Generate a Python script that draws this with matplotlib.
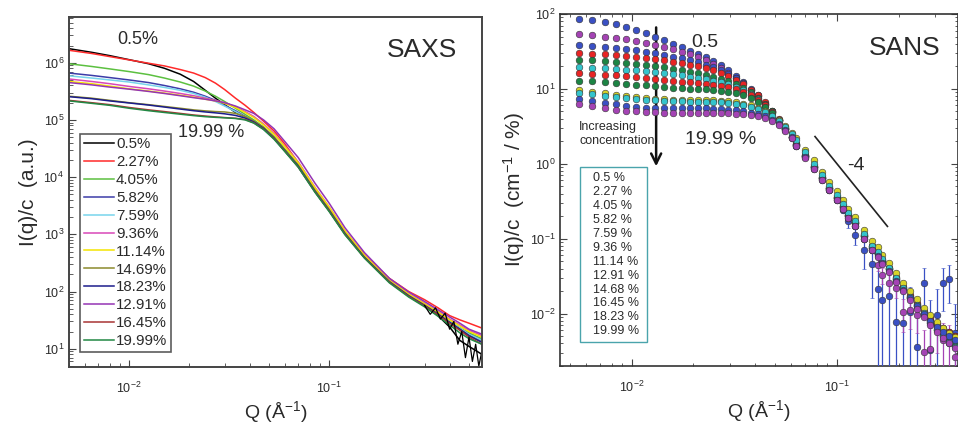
import numpy as np
import matplotlib
matplotlib.use("Agg")
import matplotlib.pyplot as plt
from matplotlib.patches import Rectangle
from matplotlib.ticker import NullFormatter

plt.rcParams["font.family"] = ["Liberation Sans", "DejaVu Sans"]
plt.rcParams["mathtext.fontset"] = "custom"
plt.rcParams["mathtext.rm"] = "Liberation Sans"
plt.rcParams["mathtext.it"] = "Liberation Sans:italic"

# ------------------------------------------------------------
# SAXS DATA (left panel)
# ------------------------------------------------------------
saxs_labels = ["0.5%", "2.27%", "4.05%", "5.82%", "7.59%", "9.36%",
               "11.14%", "14.69%", "18.23%", "12.91%", "16.45%", "19.99%"]
saxs_colors = ["#000000", "#ff2a2a", "#5cc040", "#3c3ca8", "#78d4ec", "#d848b8",
               "#f4e400", "#8c8a2c", "#1c1c8c", "#9434b4", "#a83434", "#228844"]

saxs_q = [0.005, 0.0065, 0.008, 0.01, 0.0125, 0.015, 0.018, 0.021, 0.024, 0.027,
          0.03, 0.034, 0.038, 0.042, 0.047, 0.053, 0.06, 0.07, 0.085, 0.1,
          0.12, 0.15, 0.2, 0.25, 0.3, 0.35, 0.4, 0.45, 0.5, 0.58]

saxs_I = [
    [1.76e6, 1.52e6, 1.33e6, 1.13e6, 9.6e5, 8.0e5, 6.3e5, 4.7e5, 3.3e5, 2.4e5,
     1.85e5, 1.35e5, 1.12e5, 9.3e4, 7.2e4, 4.9e4, 3.0e4, 1.6e4, 5.8e3, 2.7e3,
     1.05e3, 410, 150, 85, 57, 38, 24, 14, 11, 8],
    [1.65e6, 1.45e6, 1.28e6, 1.12e6, 9.8e5, 8.8e5, 7.6e5, 6.6e5, 5.5e5, 4.4e5,
     3.4e5, 2.4e5, 1.8e5, 1.35e5, 9.5e4, 6.4e4, 3.8e4, 1.8e4, 6.2e3, 2.8e3,
     1.1e3, 440, 170, 100, 72, 52, 38, 32, 28, 23],
    [9.6e5, 8.6e5, 7.8e5, 7.0e5, 6.2e5, 5.4e5, 4.6e5, 3.9e5, 3.2e5, 2.6e5,
     2.1e5, 1.6e5, 1.25e5, 1.0e5, 7.5e4, 5.1e4, 3.1e4, 1.65e4, 6.0e3, 2.8e3,
     1.1e3, 420, 155, 88, 60, 42, 30, 23, 19, 15],
    [6.6e5, 6.0e5, 5.5e5, 5.0e5, 4.5e5, 4.0e5, 3.5e5, 3.05e5, 2.6e5, 2.2e5,
     1.8e5, 1.45e5, 1.15e5, 9.2e4, 7.0e4, 4.8e4, 2.9e4, 1.55e4, 5.6e3, 2.6e3,
     1.02e3, 400, 150, 85, 58, 41, 30, 23, 18, 14],
    [5.9e5, 5.4e5, 5.0e5, 4.6e5, 4.1e5, 3.7e5, 3.3e5, 2.9e5, 2.5e5, 2.1e5,
     1.75e5, 1.4e5, 1.12e5, 9.0e4, 6.8e4, 4.7e4, 2.85e4, 1.5e4, 5.5e3, 2.6e3,
     1.0e3, 395, 150, 86, 59, 42, 30, 23, 18, 14],
    [5.2e5, 4.7e5, 4.3e5, 3.85e5, 3.5e5, 3.2e5, 2.9e5, 2.65e5, 2.4e5, 2.2e5,
     2.0e5, 1.7e5, 1.4e5, 1.15e5, 8.5e4, 5.8e4, 3.5e4, 1.85e4, 6.6e3, 3.0e3,
     1.15e3, 440, 160, 92, 63, 45, 33, 26, 21, 17],
    [4.7e5, 4.3e5, 3.9e5, 3.5e5, 3.2e5, 2.95e5, 2.7e5, 2.5e5, 2.3e5, 2.15e5,
     1.95e5, 1.65e5, 1.35e5, 1.1e5, 8.2e4, 5.6e4, 3.4e4, 1.8e4, 6.5e3, 3.0e3,
     1.15e3, 430, 158, 90, 61, 44, 32, 25, 20, 16],
    [2.6e5, 2.4e5, 2.2e5, 2.0e5, 1.85e5, 1.72e5, 1.6e5, 1.5e5, 1.44e5, 1.4e5,
     1.38e5, 1.3e5, 1.15e5, 9.6e4, 7.4e4, 5.0e4, 3.0e4, 1.6e4, 5.8e3, 2.7e3,
     1.05e3, 400, 150, 85, 58, 41, 29, 22, 17, 13],
    [2.55e5, 2.35e5, 2.15e5, 1.98e5, 1.82e5, 1.68e5, 1.55e5, 1.45e5, 1.38e5, 1.33e5,
     1.28e5, 1.2e5, 1.08e5, 9.2e4, 7.1e4, 4.8e4, 2.9e4, 1.55e4, 5.6e3, 2.6e3,
     1.02e3, 395, 148, 84, 57, 40, 29, 22, 17, 13],
    [4.5e5, 4.1e5, 3.75e5, 3.45e5, 3.15e5, 2.9e5, 2.65e5, 2.45e5, 2.3e5, 2.15e5,
     2.0e5, 1.75e5, 1.5e5, 1.3e5, 1.0e5, 7.0e4, 4.2e4, 2.2e4, 7.8e3, 3.5e3,
     1.3e3, 480, 170, 98, 67, 48, 36, 28, 22, 18],
    [2.2e5, 2.0e5, 1.85e5, 1.65e5, 1.5e5, 1.4e5, 1.3e5, 1.22e5, 1.17e5, 1.13e5,
     1.1e5, 1.07e5, 1.02e5, 8.9e4, 6.9e4, 4.7e4, 2.85e4, 1.5e4, 5.5e3, 2.55e3,
     1.0e3, 390, 145, 82, 56, 39, 28, 21, 16, 12],
    [2.15e5, 1.95e5, 1.8e5, 1.6e5, 1.45e5, 1.35e5, 1.26e5, 1.19e5, 1.14e5, 1.11e5,
     1.09e5, 1.06e5, 1.0e5, 8.8e4, 6.8e4, 4.6e4, 2.8e4, 1.5e4, 5.4e3, 2.5e3,
     980, 385, 142, 80, 54, 37, 26, 19, 15, 12],
]

# noisy high-q end of the 0.5 % SAXS curve
saxs_noise_q = [0.3, 0.32, 0.34, 0.36, 0.38, 0.4, 0.42, 0.44, 0.46, 0.48,
                0.5, 0.52, 0.54, 0.56, 0.58]
saxs_noise_I = [57, 40, 52, 33, 42, 22, 30, 12, 20, 7, 16, 6, 12, 5, 9]

saxs_yticks = [1e1, 1e2, 1e3, 1e4, 1e5, 1e6]
q_ticks = [0.01, 0.1]

# ------------------------------------------------------------
# SANS DATA (right panel)
# ------------------------------------------------------------
sans_labels = ["0.5 %", "2.27 %", "4.05 %", "5.82 %", "7.59 %", "9.36 %",
               "11.14 %", "12.91 %", "14.68 %", "16.45 %", "18.23 %", "19.99 %"]
sans_colors = ["#3a50c4", "#a443b4", "#3a50c4", "#e82424", "#1c8444", "#34c4cc",
               "#e82424", "#1c8444", "#d8d428", "#34c4cc", "#3a50c4", "#a443b4"]

sans_q = [0.0055, 0.0064, 0.0074, 0.0084, 0.0094, 0.0105, 0.0117, 0.0130, 0.0144, 0.0159,
          0.0175, 0.0192, 0.0210, 0.0229, 0.0250, 0.0272, 0.0296, 0.0322, 0.0350, 0.0380,
          0.0412, 0.0446, 0.0482, 0.0520, 0.0560, 0.0603, 0.0633, 0.0700, 0.0774, 0.0845,
          0.0920, 0.1000, 0.1070, 0.1140, 0.1220, 0.1350, 0.1480, 0.1580, 0.1660, 0.1800,
          0.1950, 0.2100, 0.2280, 0.2450, 0.2650, 0.2850, 0.3080, 0.3310, 0.3540, 0.3770]

sans_I = [
    [85, 82, 78, 73, 68, 62, 56, 50, 45, 40,
     36, 32.5, 29.5, 26.5, 23.5, 21, 18, 15, 12.2, 9.8,
     8.0, 6.3, 4.9, 3.8, 2.95, 2.25, 1.75, 1.25, 0.88, 0.62,
     0.45, 0.33, 0.24, 0.17, 0.113, 0.07, 0.046, 0.021, 0.015, 0.017,
     0.0077, 0.0074, 0.0105, 0.0036, 0.026, 0.0033, 0.0095, 0.026, 0.029, 0.0055],
    [54, 52, 50, 48, 46, 44, 41.5, 39, 36.5, 34,
     31.5, 29, 26.5, 24, 21.5, 19, 16.5, 14, 11.8, 9.8,
     8.0, 6.3, 4.9, 3.8, 2.9, 2.2, 1.8, 1.28, 0.9, 0.64,
     0.47, 0.35, 0.26, 0.2, 0.15, 0.1, 0.07, 0.045, 0.033, 0.026,
     0.022, 0.0106, 0.0113, 0.0095, 0.0031, 0.0034, 0.006, 0.0045, 0.004, 0.0026],
    [38.6, 37.5, 36.5, 35.2, 34, 32.8, 31.5, 30, 28.5, 27,
     25.5, 24, 22.5, 21, 19.5, 17.8, 16, 14, 12, 10,
     8.2, 6.4, 5.0, 3.85, 2.95, 2.25, 1.78, 1.27, 0.9, 0.64,
     0.47, 0.35, 0.265, 0.205, 0.16, 0.108, 0.076, 0.062, 0.05, 0.039,
     0.029, 0.0215, 0.0165, 0.013, 0.0102, 0.0082, 0.0068, 0.0058, 0.0052, 0.0046],
    [30, 29.5, 29, 28.3, 27.5, 26.8, 26, 25, 24, 23,
     22, 21, 20, 19, 17.8, 16.5, 15, 13.3, 11.5, 9.8,
     8.2, 6.6, 5.1, 3.95, 3.0, 2.3, 1.85, 1.3, 0.93, 0.66,
     0.48, 0.36, 0.275, 0.21, 0.165, 0.112, 0.079, 0.064, 0.052, 0.041,
     0.030, 0.0225, 0.0172, 0.0135, 0.0106, 0.0084, 0.0071, 0.0062, 0.0056, 0.0050],
    [24.4, 24, 23.5, 23, 22.3, 21.7, 21, 20.2, 19.4, 18.6,
     17.8, 17, 16.2, 15.4, 14.6, 13.7, 12.7, 11.5, 10.2, 9.0,
     7.6, 6.3, 5.0, 3.9, 3.0, 2.3, 1.82, 1.28, 0.91, 0.65,
     0.47, 0.355, 0.27, 0.207, 0.162, 0.11, 0.077, 0.063, 0.051, 0.04,
     0.029, 0.0218, 0.0166, 0.013, 0.0101, 0.0079, 0.0064, 0.0053, 0.0046, 0.004],
    [19.5, 19.2, 18.8, 18.4, 18, 17.6, 17.1, 16.6, 16.1, 15.6,
     15.1, 14.6, 14, 13.4, 12.8, 12.2, 11.5, 10.6, 9.6, 8.5,
     7.3, 6.1, 4.9, 3.85, 2.95, 2.28, 1.8, 1.27, 0.9, 0.64,
     0.465, 0.35, 0.265, 0.204, 0.16, 0.108, 0.076, 0.062, 0.05, 0.039,
     0.0285, 0.0213, 0.0162, 0.0126, 0.0098, 0.0076, 0.0061, 0.005, 0.0042, 0.0037],
    [16.2, 15.9, 15.5, 15.1, 14.7, 14.3, 13.9, 13.5, 13.1, 12.8,
     12.5, 12.2, 11.9, 11.6, 11.3, 11, 10.5, 9.9, 9.1, 8.2,
     7.1, 6.0, 4.9, 3.85, 3.0, 2.3, 1.85, 1.3, 0.93, 0.66,
     0.48, 0.36, 0.275, 0.21, 0.165, 0.112, 0.079, 0.064, 0.052, 0.041,
     0.0305, 0.023, 0.0176, 0.0139, 0.011, 0.0088, 0.0074, 0.0064, 0.0057, 0.0051],
    [12.9, 12.6, 12.3, 12, 11.7, 11.4, 11.1, 10.8, 10.5, 10.3,
     10.2, 10.1, 10, 9.9, 9.7, 9.5, 9.2, 8.8, 8.2, 7.5,
     6.6, 5.7, 4.7, 3.75, 2.95, 2.25, 1.8, 1.27, 0.9, 0.64,
     0.465, 0.35, 0.265, 0.204, 0.16, 0.108, 0.076, 0.062, 0.05, 0.039,
     0.0285, 0.0213, 0.0162, 0.0126, 0.0098, 0.0076, 0.0061, 0.0051, 0.0044, 0.0039],
    [9.7, 9.2, 8.8, 8.4, 8.1, 7.8, 7.6, 7.4, 7.3, 7.2,
     7.2, 7.1, 7.1, 7.0, 7.0, 6.9, 6.8, 6.6, 6.3, 6.0,
     5.6, 5.0, 4.4, 3.8, 3.2, 2.6, 2.2, 1.54, 1.11, 0.78,
     0.57, 0.43, 0.33, 0.25, 0.195, 0.132, 0.092, 0.077, 0.061, 0.048,
     0.035, 0.026, 0.02, 0.0155, 0.012, 0.0095, 0.0078, 0.0065, 0.0055, 0.0048],
    [8.9, 8.5, 8.1, 7.8, 7.5, 7.3, 7.1, 7.0, 6.9, 6.8,
     6.8, 6.7, 6.7, 6.7, 6.6, 6.6, 6.5, 6.3, 6.1, 5.8,
     5.4, 4.9, 4.3, 3.7, 3.1, 2.5, 2.05, 1.42, 1.0, 0.7,
     0.51, 0.38, 0.29, 0.22, 0.17, 0.115, 0.08, 0.066, 0.053, 0.041,
     0.03, 0.0222, 0.0168, 0.013, 0.0101, 0.0078, 0.0062, 0.005, 0.0042, 0.0036],
    [7.4, 6.9, 6.5, 6.2, 5.9, 5.7, 5.6, 5.5, 5.5, 5.5,
     5.5, 5.5, 5.5, 5.5, 5.4, 5.4, 5.3, 5.2, 5.0, 4.8,
     4.6, 4.3, 3.9, 3.4, 2.85, 2.25, 1.75, 1.22, 0.86, 0.6,
     0.44, 0.33, 0.25, 0.19, 0.148, 0.1, 0.07, 0.058, 0.047, 0.037,
     0.0275, 0.0208, 0.016, 0.0126, 0.0099, 0.0079, 0.0066, 0.0057, 0.005, 0.0045],
    [6.3, 5.9, 5.6, 5.3, 5.1, 5.0, 4.9, 4.85, 4.8, 4.8,
     4.8, 4.8, 4.8, 4.8, 4.75, 4.75, 4.7, 4.65, 4.55, 4.45,
     4.3, 4.05, 3.7, 3.25, 2.75, 2.2, 1.72, 1.2, 0.85, 0.6,
     0.44, 0.33, 0.25, 0.19, 0.148, 0.1, 0.07, 0.057, 0.046, 0.036,
     0.0265, 0.0198, 0.015, 0.0117, 0.0091, 0.0071, 0.0057, 0.0047, 0.004, 0.0035],
]

# error bars (only the two most dilute samples have visible ones)
sans_err_05 = [0] * 31 + [0.02, 0.02, 0.03, 0.03, 0.03, 0.03, 0.025, 0.02, 0.02,
                          0.015, 0.015, 0.012, 0.012, 0.015, 0.012, 0.012, 0.015, 0.015, 0.008]
sans_err_227 = [0] * 36 + [0.005, 0.008, 0.008, 0.008, 0.006, 0.005, 0.005, 0.004,
                           0.003, 0.003, 0.003, 0.003, 0.003, 0.002]

sans_yticks = [1e-2, 1e-1, 1e0, 1e1, 1e2]

# ------------------------------------------------------------
# FIGURE
# ------------------------------------------------------------
fig = plt.figure(figsize=(9.58, 4.23), dpi=100)
ax1 = fig.add_axes([0.072, 0.1324, 0.431, 0.8274])
ax2 = fig.add_axes([0.5846, 0.1348, 0.4154, 0.8322])

text_col = "#2a2a2a"

# ---------------- SAXS ----------------
for vals, col, lab in zip(saxs_I, saxs_colors, saxs_labels):
    ax1.plot(saxs_q, vals, color=col, lw=1.1, label=lab)
ax1.plot(saxs_noise_q, saxs_noise_I, color="#000000", lw=0.9)

ax1.set_xscale("log")
ax1.set_yscale("log")
ax1.set_xticks(q_ticks)
ax1.set_yticks(saxs_yticks)
ax1.set_xlim(0.005, 0.58)
ax1.set_ylim(4.8, 6.3e6)
ax1.xaxis.set_minor_formatter(NullFormatter())
ax1.yaxis.set_minor_formatter(NullFormatter())
ax1.set_xlabel("Q (Å$^{-1}$)", fontsize=14, color=text_col, labelpad=2)
ax1.set_ylabel("I(q)/c  (a.u.)", fontsize=15, color=text_col, labelpad=4)
ax1.tick_params(which="both", direction="in", labelsize=9, colors="#444444",
                labelcolor=text_col)
ax1.tick_params(which="major", length=5)
ax1.tick_params(which="minor", length=3)
ax1.tick_params(axis="x", pad=10)
for s in ax1.spines.values():
    s.set_linewidth(1.4)
    s.set_color("#444444")

leg = ax1.legend(loc="lower left", bbox_to_anchor=(0.027, 0.043), fontsize=10.8,
                 frameon=True, fancybox=False, edgecolor="#333333",
                 labelspacing=0.26, handlelength=2.0, handletextpad=0.15,
                 borderpad=0.25, borderaxespad=0)
leg.get_frame().set_linewidth(1.2)
for t in leg.get_texts():
    t.set_color(text_col)

ax1.text(0.118, 0.935, "0.5%", transform=ax1.transAxes, fontsize=13,
         color=text_col, ha="left", va="center")
ax1.text(0.265, 0.669, "19.99 %", transform=ax1.transAxes, fontsize=13,
         color=text_col, ha="left", va="center")
ax1.text(0.77, 0.905, "SAXS", transform=ax1.transAxes, fontsize=19,
         color=text_col, ha="left", va="center")

# ---------------- SANS ----------------
for i, (vals, col) in enumerate(zip(sans_I, sans_colors)):
    if i == 0:
        err = sans_err_05
    elif i == 1:
        err = sans_err_227
    else:
        err = None
    ax2.errorbar(sans_q, vals, yerr=err, fmt="o", ms=4.8, mfc=col, mec="#333333",
                 mew=0.4, ecolor=col, elinewidth=0.9, capsize=1.5, zorder=3)

ax2.set_xscale("log")
ax2.set_yscale("log")
ax2.set_xticks(q_ticks)
ax2.set_yticks(sans_yticks)
ax2.set_xlim(0.00447, 0.39)
ax2.set_ylim(0.002, 100)
ax2.xaxis.set_minor_formatter(NullFormatter())
ax2.yaxis.set_minor_formatter(NullFormatter())
ax2.set_xlabel("Q (Å$^{-1}$)", fontsize=14, color=text_col, labelpad=2)
ax2.set_ylabel("I(q)/c  (cm$^{-1}$ / %)", fontsize=15, color=text_col, labelpad=2)
ax2.tick_params(which="both", direction="in", labelsize=9, colors="#444444",
                labelcolor=text_col, top=True, right=True)
ax2.tick_params(which="major", length=5)
ax2.tick_params(which="minor", length=2.5)
ax2.tick_params(axis="x", pad=10)
for s in ax2.spines.values():
    s.set_linewidth(1.2)
    s.set_color("#333333")

# slope guide and annotations
ax2.plot([0.0783, 0.1766], [2.31, 0.146], color="#222222", lw=1.2)
ax2.text(0.124, 0.95, "-4", fontsize=14, color=text_col, ha="center", va="center")
ax2.annotate("", xy=(0.01315, 0.85), xytext=(0.01315, 72),
             arrowprops=dict(arrowstyle="->", lw=1.8, color="#111111",
                             mutation_scale=18))
ax2.text(0.048, 0.659, "Increasing\nconcentration", transform=ax2.transAxes,
         fontsize=9, color=text_col, ha="left", va="center", linespacing=1.3)
ax2.text(0.365, 0.92, "0.5", transform=ax2.transAxes, fontsize=14,
         color=text_col, ha="center", va="center")
ax2.text(0.315, 0.643, "19.99 %", transform=ax2.transAxes, fontsize=14,
         color=text_col, ha="left", va="center")
ax2.text(0.775, 0.903, "SANS", transform=ax2.transAxes, fontsize=19,
         color=text_col, ha="left", va="center")

# concentration box
ax2.add_patch(Rectangle((0.05, 0.069), 0.168, 0.497, transform=ax2.transAxes,
                        facecolor="white", edgecolor="#4aa4ac", lw=1.0, zorder=5))
for k, lab in enumerate(sans_labels):
    ax2.text(0.084, 0.533 - k * 0.0395, lab, transform=ax2.transAxes,
             fontsize=9, color=text_col, ha="left", va="center", zorder=6)

fig.savefig("out.png", dpi=100)
